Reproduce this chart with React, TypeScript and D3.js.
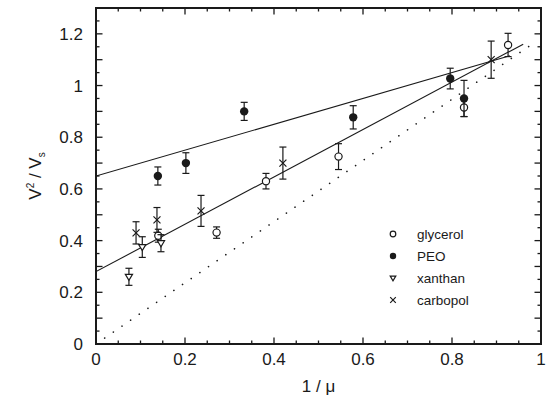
import * as d3 from "d3";

const W = 548;
const H = 405;
const M = { top: 8, right: 7, bottom: 61, left: 96 };

// tick labels
const xTicks = [0, 0.2, 0.4, 0.6, 0.8, 1];
const yTicks = [0, 0.2, 0.4, 0.6, 0.8, 1, 1.2];

// data: x = 1/mu, y = V^2/Vs, e = error
const glycerolX = [0.14, 0.271, 0.382, 0.545, 0.827, 0.926];
const glycerolY = [0.419, 0.431, 0.63, 0.725, 0.915, 1.157];
const glycerolE = [0.025, 0.022, 0.03, 0.05, 0.035, 0.045];

const peoX = [0.139, 0.202, 0.333, 0.578, 0.796, 0.827];
const peoY = [0.65, 0.70, 0.90, 0.877, 1.027, 0.95];
const peoE = [0.035, 0.04, 0.035, 0.045, 0.04, 0.07];

const xanthanX = [0.074, 0.104, 0.146];
const xanthanY = [0.26, 0.375, 0.39];
const xanthanE = [0.033, 0.04, 0.033];

const carbopolX = [0.09, 0.137, 0.236, 0.42, 0.888];
const carbopolY = [0.43, 0.48, 0.515, 0.70, 1.10];
const carbopolE = [0.043, 0.048, 0.06, 0.062, 0.072];

// fitted lines [x0, y0, x1, y1]
const fitUpper = [0, 0.65, 0.93, 1.115];
const fitLower = [0, 0.28, 0.96, 1.16];
const refDotted = [0, 0, 0.98, 1.16];

const legendNames = ["glycerol", "PEO", "xanthan", "carbopol"];

const FONT = "'Liberation Sans', Arial, Helvetica, sans-serif";
const INK = "#1a1a1a";

type Kind = "open" | "filled" | "tri" | "cross";

const Marker = ({ kind, x, y, s }: { kind: Kind; x: number; y: number; s: number }) => {
  if (kind === "open")
    return <circle cx={x} cy={y} r={s} fill="#fff" stroke={INK} strokeWidth={1.2} />;
  if (kind === "filled") return <circle cx={x} cy={y} r={s + 0.6} fill={INK} />;
  if (kind === "tri")
    return (
      <path
        d={`M${x - s},${y - s * 0.7}L${x + s},${y - s * 0.7}L${x},${y + s * 1.0}Z`}
        fill="#fff"
        stroke={INK}
        strokeWidth={1.2}
      />
    );
  return (
    <path
      d={`M${x - s},${y - s}L${x + s},${y + s}M${x - s},${y + s}L${x + s},${y - s}`}
      stroke={INK}
      strokeWidth={1.2}
    />
  );
};

export default function App() {
  const x = d3.scaleLinear().domain([0, 1]).range([M.left, W - M.right]);
  const y = d3.scaleLinear().domain([0, 1.3]).range([H - M.bottom, M.top]);
  const x0 = x(0), x1 = x(1), y0 = y(0), y1 = y(1.3);

  const series: { kind: Kind; xs: number[]; ys: number[]; es: number[] }[] = [
    { kind: "open", xs: glycerolX, ys: glycerolY, es: glycerolE },
    { kind: "filled", xs: peoX, ys: peoY, es: peoE },
    { kind: "tri", xs: xanthanX, ys: xanthanY, es: xanthanE },
    { kind: "cross", xs: carbopolX, ys: carbopolY, es: carbopolE },
  ];

  const xMinor = d3.range(0, 1.0001, 0.05);
  const yMinor = d3.range(0, 1.3001, 0.05);
  const yMajor = d3.range(0, 1.3001, 0.1);

  const seg = (l: number[]) => d3.line()([[x(l[0]), y(l[1])], [x(l[2]), y(l[3])]]) || "";

  return (
    <svg
      width={W}
      height={H}
      style={{ position: "absolute", left: 0, top: 0, background: "#fff" }}
      fontFamily={FONT}
    >
      <defs>
        <clipPath id="plot">
          <rect x={x0} y={y1} width={x1 - x0} height={y0 - y1} />
        </clipPath>
      </defs>

      {/* ticks on all four sides */}
      <g stroke={INK} strokeWidth={1.3}>
        {xMinor.map((v, i) => {
          const big = Math.abs(Math.round(v * 100) % 20) < 1e-6;
          const L = big ? 6.5 : 3.5;
          return (
            <g key={"xt" + i}>
              <line x1={x(v)} x2={x(v)} y1={y0} y2={y0 - L} />
              <line x1={x(v)} x2={x(v)} y1={y1} y2={y1 + L} />
            </g>
          );
        })}
        {yMinor.map((v, i) => {
          const big = yMajor.some((m) => Math.abs(m - v) < 1e-6);
          const L = big ? 6.5 : 3.5;
          return (
            <g key={"yt" + i}>
              <line x1={x0} x2={x0 + L} y1={y(v)} y2={y(v)} />
              <line x1={x1} x2={x1 - L} y1={y(v)} y2={y(v)} />
            </g>
          );
        })}
      </g>

      {/* fit lines */}
      <g clipPath="url(#plot)" fill="none">
        <path d={seg(fitUpper)} stroke={INK} strokeWidth={1.1} />
        <path d={seg(fitLower)} stroke={INK} strokeWidth={1.1} />
        <path
          d={seg(refDotted)}
          stroke={INK}
          strokeWidth={1.6}
          strokeDasharray="0.1 10.4"
          strokeLinecap="round"
        />
      </g>

      {/* error bars and markers */}
      {series.map((s, si) => (
        <g key={"s" + si}>
          {s.xs.map((xv, i) => {
            const px = x(xv);
            const top = y(s.ys[i] + s.es[i]);
            const bot = y(s.ys[i] - s.es[i]);
            return (
              <g key={i} stroke={INK} strokeWidth={1.2}>
                <line x1={px} x2={px} y1={top} y2={bot} />
                <line x1={px - 3.5} x2={px + 3.5} y1={top} y2={top} />
                <line x1={px - 3.5} x2={px + 3.5} y1={bot} y2={bot} />
              </g>
            );
          })}
          {s.xs.map((xv, i) => (
            <Marker key={"m" + i} kind={s.kind} x={x(xv)} y={y(s.ys[i])} s={s.kind === "cross" ? 3.5 : 3.6} />
          ))}
        </g>
      ))}

      {/* frame */}
      <rect x={x0} y={y1} width={x1 - x0} height={y0 - y1} fill="none" stroke={INK} strokeWidth={2} />

      {/* tick labels */}
      <g fill={INK} fontSize={17}>
        {xTicks.map((v) => (
          <text key={"xl" + v} x={x(v)} y={y0 + 21} textAnchor="middle">
            {d3.format("~g")(v)}
          </text>
        ))}
        {yTicks.map((v) => (
          <text key={"yl" + v} x={x0 - 13} y={y(v) + 6} textAnchor="end">
            {d3.format("~g")(v)}
          </text>
        ))}
      </g>

      {/* axis titles */}
      <text x={(x0 + x1) / 2} y={392} textAnchor="middle" fontSize={17} fill={INK}>
        1 / μ
      </text>
      <text
        transform={`translate(41,${(y0 + y1) / 2}) rotate(-90)`}
        textAnchor="middle"
        fontSize={17}
        fill={INK}
      >
        V<tspan fontSize={10} dy={-7}>2</tspan>
        <tspan dy={7}> / V</tspan>
        <tspan fontSize={10} dy={4}>s</tspan>
      </text>

      {/* legend */}
      <g fontSize={13.5} fill={INK}>
        {legendNames.map((name, i) => {
          const ly = 234 + i * 22;
          const kind = series[i].kind;
          return (
            <g key={name}>
              <Marker kind={kind} x={393} y={ly} s={kind === "filled" ? 2.6 : 2.8} />
              <text x={417} y={ly + 5}>
                {name}
              </text>
            </g>
          );
        })}
      </g>
    </svg>
  );
}
